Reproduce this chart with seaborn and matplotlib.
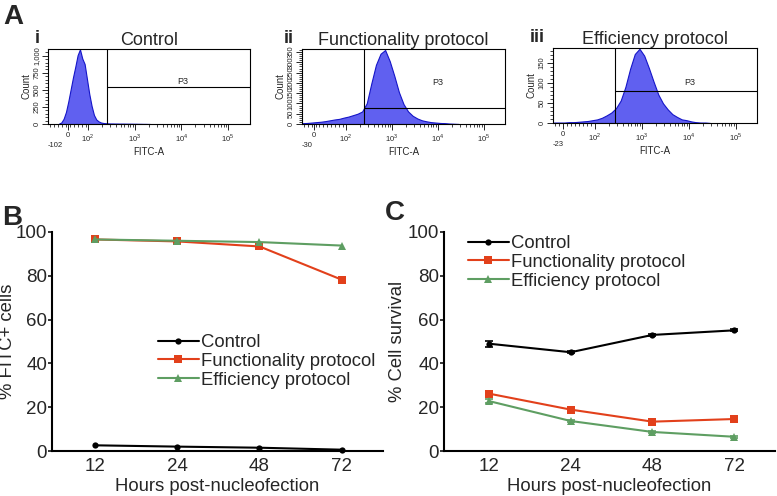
import numpy as np
import pandas as pd
import matplotlib
matplotlib.use("Agg")
import matplotlib.pyplot as plt
import seaborn as sns

sns.set_style("white")
plt.rcParams['font.family'] = ['Liberation Sans', 'DejaVu Sans']
plt.rcParams['mathtext.fontset'] = 'custom'
plt.rcParams['mathtext.rm'] = 'Liberation Sans'

# ---------------- data ----------------
# Panel A: flow cytometry histograms (x in display "decade" units of the biexponential axis)
hist_titles = ["Control", "Functionality protocol", "Efficiency protocol"]
hist_numerals = ["i", "ii", "iii"]
hist_left_labels = ["-102", "-30", "-23"]
hist_xlim = [(1.14, 5.47), (1.04, 5.46), (1.11, 5.45)]
hist_zero_pos = [1.56, 1.30, 1.32]
hist_ymax = [1100, 365, 187]
hist_yticks = [[0, 250, 500, 750, 1000], [0, 50, 100, 150, 200, 250, 300, 350], [0, 50, 100, 150]]
hist_yticklabels = [["0", "250", "500", "750", "1,000"],
                    ["0", "50", "100", "150", "200", "250", "300", "350"],
                    ["0", "50", "100", "150"]]
hist_yminor_step = [50, 10, 10]

ctrl_edges = [round(1.35 + 0.05 * i, 3) for i in range(41)]
ctrl_counts = [5, 22, 77, 176, 330, 506, 682, 840, 1010, 1095, 960, 880, 660, 440, 264, 132,
               66, 38, 22, 15, 11, 9, 7, 7, 6, 6, 5, 5, 5, 4, 4, 4, 3, 3, 2, 2, 1, 1, 0, 0]
func_edges = [round(1.0 + 0.1 * i, 3) for i in range(36)]
func_counts = [4, 5, 7, 9, 11, 14, 18, 22, 25, 31, 36, 43, 50, 61, 101, 198, 288, 342, 360, 306,
               234, 155, 97, 61, 40, 27, 18, 13, 9, 7, 5, 4, 2, 1, 0]
eff_edges = [round(1.0 + 0.1 * i, 3) for i in range(36)]
eff_counts = [0, 1, 1, 1, 2, 2, 3, 4, 5, 7, 9, 13, 19, 26, 37, 56, 90, 135, 172, 185,
              168, 137, 103, 71, 49, 34, 22, 15, 9, 7, 4, 2, 1, 1, 0]
hist_edges = [ctrl_edges, func_edges, eff_edges]
hist_counts = [ctrl_counts, func_counts, eff_counts]

gate_x = [2.41, 2.39, 2.43]
gate_y = [540, 76, 80]
p3_pos = [(4.03, 616), (4.0, 200), (4.02, 102)]

# Panels B and C
hours = ["12", "24", "48", "72"]
series_names = ["Control", "Functionality protocol", "Efficiency protocol"]
fitc_control = [2.6, 2.0, 1.5, 0.6]
fitc_func = [96.6, 95.7, 93.4, 78.2]
fitc_eff = [96.6, 96.0, 95.4, 93.8]
surv_control = [49.0, 45.1, 53.0, 55.1]
surv_func = [26.2, 18.9, 13.4, 14.6]
surv_eff = [22.8, 13.7, 8.7, 6.5]
surv_control_err = [1.3, 0.4, 0.6, 0.5]
surv_func_err = [0.8, 0.5, 0.5, 0.6]
surv_eff_err = [0.8, 0.5, 0.4, 0.4]

colors = ["#000000", "#E2401B", "#5E9E62"]
markers = ["o", "s", "^"]
msizes = [4.5, 5.2, 5.5]

W, H = 777, 496
fig = plt.figure(figsize=(W / 100, H / 100), dpi=100)


def px_axes(left, top, right, bottom):
    return fig.add_axes([left / W, 1 - bottom / H, (right - left) / W, (bottom - top) / H])


# ---------------- Panel A ----------------
hist_boxes = [(48, 49, 250, 124), (302, 49, 505, 124), (553, 48, 757, 123)]
for k in range(3):
    ax = px_axes(*hist_boxes[k])
    edges = hist_edges[k]
    centers = [(edges[j] + edges[j + 1]) / 2 for j in range(len(edges) - 1)]
    dfh = pd.DataFrame({"x": centers, "count": hist_counts[k]})
    sns.histplot(data=dfh, x="x", weights="count", bins=edges, element="poly", fill=True,
                 color="#6060F0", alpha=1.0, edgecolor="#1515C8", linewidth=0.8, ax=ax)
    x0, x1 = hist_xlim[k]
    ymax = hist_ymax[k]
    ax.set_xlim(x0, x1)
    ax.set_ylim(0, ymax)
    # gate P3
    ax.plot([gate_x[k], gate_x[k]], [0, ymax], color="black", lw=0.8)
    ax.plot([gate_x[k], x1], [gate_y[k], gate_y[k]], color="black", lw=0.8)
    ax.text(p3_pos[k][0], p3_pos[k][1], "P3", fontsize=6.5, ha="center", va="center")
    for sp in ax.spines.values():
        sp.set_visible(True)
        sp.set_color("black")
        sp.set_linewidth(0.8)
    # x ticks
    major = [hist_zero_pos[k], 2, 3, 4, 5]
    ax.set_xticks(major)
    ax.set_xticklabels(["0", r"$10^2$", r"$10^3$", r"$10^4$", r"$10^5$"], fontsize=5.5)
    minor = list(np.arange(x0 + 0.04, 2.0, 0.085))
    for d in (2, 3, 4):
        minor += [d + np.log10(m) for m in range(2, 10)]
    ax.set_xticks(minor, minor=True)
    ax.tick_params(axis="x", which="major", direction="out", length=4, width=0.7, pad=2, bottom=True)
    ax.tick_params(axis="x", which="minor", direction="out", length=2.5, width=0.6, bottom=True)
    ax.text(x0, -0.24, hist_left_labels[k], transform=ax.get_xaxis_transform(),
            fontsize=5.5, ha="left", va="top")
    # y ticks
    ax.set_yticks(hist_yticks[k])
    ax.set_yticklabels(hist_yticklabels[k], fontsize=5.5, rotation=90, va="center")
    ax.set_yticks(np.arange(0, ymax, hist_yminor_step[k]), minor=True)
    ax.tick_params(axis="y", which="major", direction="out", length=4, width=0.7, pad=1.5, left=True)
    ax.tick_params(axis="y", which="minor", direction="out", length=2.5, width=0.6, left=True)
    ax.set_xlabel("FITC-A", fontsize=7, labelpad=2)
    ax.set_ylabel("Count", fontsize=7, labelpad=1.5)
    ax.set_title(hist_titles[k], fontsize=13, pad=1.5)
    ax.text(-0.04, 1.03, hist_numerals[k], transform=ax.transAxes, fontsize=13,
            fontweight="bold", ha="right", va="bottom")

# ---------------- Panels B and C ----------------
def line_panel(box, data, errs, ylabel, legend_anchor, xlim, ylab_x):
    ax = px_axes(*box)
    for i in range(3):
        sns.lineplot(x=hours, y=data[i], color=colors[i], marker=markers[i], markersize=msizes[i],
                     markeredgewidth=0, lw=1.5, label=series_names[i], ax=ax, clip_on=False)
        if errs is not None:
            ax.errorbar(range(len(hours)), data[i], yerr=errs[i], fmt="none", ecolor=colors[i],
                        elinewidth=1.2, capsize=3, capthick=1.2, clip_on=False)
    ax.set_ylim(0, 100)
    ax.set_xlim(*xlim)
    ax.set_yticks([0, 20, 40, 60, 80, 100])
    sns.despine(ax=ax)
    for s in ("left", "bottom"):
        ax.spines[s].set_linewidth(1.5)
        ax.spines[s].set_color("black")
    ax.tick_params(axis="y", direction="out", length=3, width=1.3, labelsize=13.5, pad=0.5, left=True)
    ax.tick_params(axis="x", length=0, labelsize=13.5, pad=5)
    ax.set_xlabel("Hours post-nucleofection", fontsize=13.3, labelpad=2)
    ax.set_ylabel(ylabel, fontsize=13.3)
    ax.yaxis.set_label_coords(ylab_x, 0.5)
    ax.legend(loc="upper left", bbox_to_anchor=(legend_anchor[0] / W, 1 - legend_anchor[1] / H),
              bbox_transform=fig.transFigure, frameon=False, fontsize=13.3, handlelength=2.2,
              handletextpad=0.15, labelspacing=0.1, borderpad=0, borderaxespad=0)
    return ax


line_panel((52, 232, 383, 451), [fitc_control, fitc_func, fitc_eff], None,
           "% FITC+ cells", (158, 334), (-0.52, 3.5), -0.108)
line_panel((444, 232, 775, 451), [surv_control, surv_func, surv_eff],
           [surv_control_err, surv_func_err, surv_eff_err],
           "% Cell survival", (468, 235), (-0.55, 3.5), -0.115)

# panel letters
fig.text(3 / W, 1 - 4 / H, "A", fontsize=20, fontweight="bold", ha="left", va="top")
fig.text(2 / W, 1 - 205 / H, "B", fontsize=20, fontweight="bold", ha="left", va="top")
fig.text(385 / W, 1 - 200 / H, "C", fontsize=20, fontweight="bold", ha="left", va="top")

fig.savefig("out.png", dpi=100)
